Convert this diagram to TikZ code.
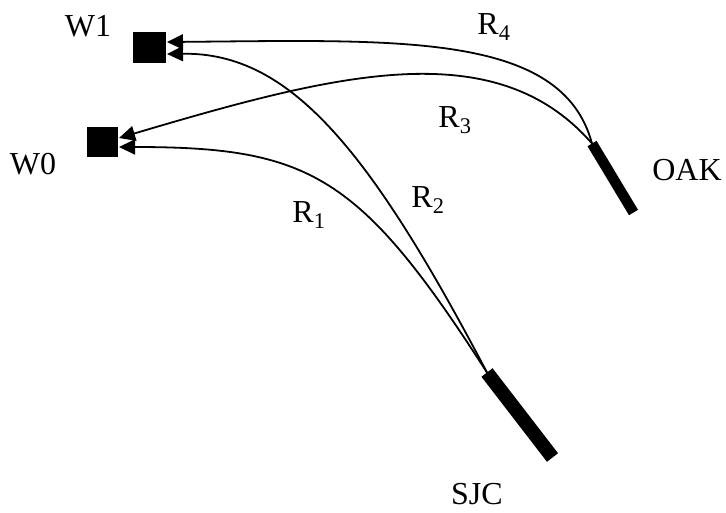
\documentclass[tikz,border=0pt]{standalone}
\usepackage{fontspec}
\setmainfont{Liberation Serif}
\usetikzlibrary{arrows.meta}
\tikzset{
  wsq/.style={fill=black, draw=none, inner sep=0pt},
  bar/.style={line width=#1, line cap=butt},
  route/.style={line width=1.8pt, -{Triangle[length=16pt,width=15pt]}},
  lbl/.style={font=\fontsize{32}{38}\selectfont, inner sep=0pt},
}
\begin{document}
\begin{tikzpicture}[x=1pt,y=-1pt]
\useasboundingbox (0,0) rectangle (726,512);
% terminals
\node[wsq, minimum width=33pt, minimum height=31pt] (W1) at (149.5,47.5) {};
\node[wsq, minimum width=31pt, minimum height=30pt] (W0) at (102.5,142) {};
\coordinate (sjctop) at (487,372.5);
\coordinate (sjcbot) at (552.5,457.5);
\coordinate (oaktop) at (592,143.5);
\coordinate (oakbot) at (633.5,212.5);
\draw[bar=14pt] (sjctop) -- (sjcbot);
\draw[bar=10.5pt] (oaktop) -- (oakbot);
% arrow targets
\coordinate (w1a) at (167,42);
\coordinate (w1b) at (167,54);
\coordinate (w0a) at (119,138);
\coordinate (w0b) at (119,147);
% labels
\node[lbl] (lW1) at (88,26) {W1};
\node[lbl] (lW0) at (33,164) {W0};
\node[lbl] (lOAK) at (687,170) {OAK};
\node[lbl] (lSJC) at (477,494) {SJC};
\node[lbl] (lR4) at (494,27) {R\textsubscript{4}};
\node[lbl] (lR3) at (455,120) {R\textsubscript{3}};
\node[lbl] (lR2) at (428,200) {R\textsubscript{2}};
\node[lbl] (lR1) at (309,215) {R\textsubscript{1}};
% routes
\draw[route] (oaktop) .. controls (562,32) and (400,40) .. (w1a);
\draw[route] (oaktop) .. controls (495,32) and (335,74) .. (w0a);
\draw[route] (sjctop) .. controls (370,150) and (290,52) .. (w1b);
\draw[route] (sjctop) .. controls (360,175) and (310,147) .. (w0b);
\end{tikzpicture}
\end{document}
